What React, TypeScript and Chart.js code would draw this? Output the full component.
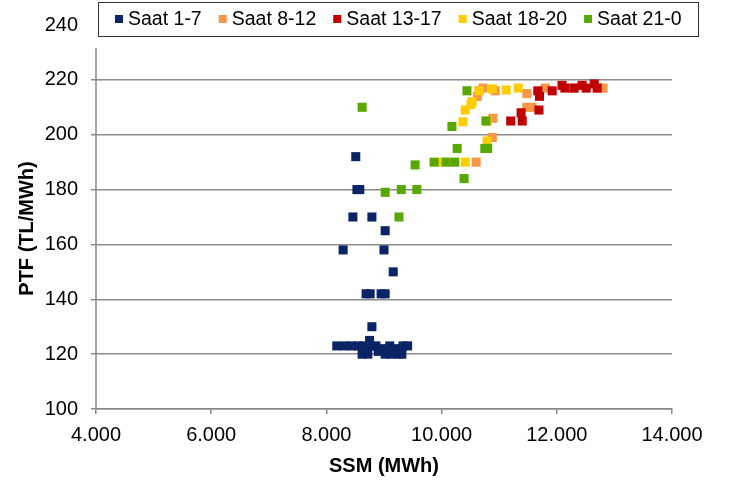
import React, { useEffect, useRef } from 'react';
import { Chart, registerables } from 'chart.js';

Chart.register(...registerables);

const seriesNames = ['Saat 1-7', 'Saat 8-12', 'Saat 13-17', 'Saat 18-20', 'Saat 21-0'];
const seriesColors = ['#0B2466', '#F79646', '#C00000', '#FFCC00', '#58A800'];

const xTickValues = [4000, 6000, 8000, 10000, 12000, 14000];
const yTickValues = [100, 120, 140, 160, 180, 200, 220, 240];

const saat1_7X = [8180, 8320, 8440, 8550, 8650, 8760, 8860, 8980, 9100, 9210, 9330, 9410, 8620, 8720, 8900, 9020, 9120, 9240, 9310, 8750, 8790, 8690, 8760, 8950, 9020, 9160, 8290, 9000, 9020, 8460, 8790, 8530, 8580, 8510];
const saat1_7Y = [123, 123, 123, 123, 123, 123, 123, 122, 123, 122, 123, 123, 120, 120, 121, 120, 120, 120, 120, 125, 130, 142, 142, 142, 142, 150, 158, 158, 165, 170, 170, 180, 180, 192];

const saat8_12X = [10620, 10720, 10930, 11480, 11800, 12280, 12750, 12800, 11480, 11570, 10890, 10880, 10600, 10650];
const saat8_12Y = [214, 217, 216, 215, 217, 217, 217, 217, 210, 210, 206, 199, 190, 216];

const saat13_17X = [11670, 11700, 11920, 12090, 12140, 12300, 12440, 12510, 12650, 12700, 11380, 11690, 11400, 11200];
const saat13_17Y = [216, 214, 216, 218, 217, 217, 218, 217, 218.5, 217, 208, 209, 205, 205];

const saat18_20X = [10650, 10880, 11120, 11330, 10530, 10510, 10410, 10370, 10790, 10790, 10010, 10410];
const saat18_20Y = [216, 216.7, 216.3, 217, 212, 211, 209, 204.7, 205, 197.7, 190, 190];

const saat21_0X = [8620, 10440, 10180, 10770, 10270, 10750, 10800, 9540, 9870, 10080, 10230, 10390, 9020, 9300, 9570, 9260];
const saat21_0Y = [210, 216, 203, 205, 195, 195, 195, 189, 190, 190, 190, 184, 179, 180, 180, 170];

const seriesX = [saat1_7X, saat8_12X, saat13_17X, saat18_20X, saat21_0X];
const seriesY = [saat1_7Y, saat8_12Y, saat13_17Y, saat18_20Y, saat21_0Y];

const xTitle = 'SSM (MWh)';
const yTitle = 'PTF (TL/MWh)';

const FONT = "'Liberation Sans', Arial, sans-serif";

const overlayPlugin = {
  id: 'overlay',
  afterDraw(chart: any) {
    const { ctx, chartArea } = chart;
    ctx.save();
    // y axis line
    ctx.strokeStyle = '#888888';
    ctx.lineWidth = 1.5;
    ctx.beginPath();
    ctx.moveTo(chartArea.left, chartArea.top + 23);
    ctx.lineTo(chartArea.left, chartArea.bottom);
    ctx.stroke();

    // axis titles
    ctx.fillStyle = '#000';
    ctx.font = `bold 20px ${FONT}`;
    ctx.textAlign = 'center';
    ctx.textBaseline = 'middle';
    ctx.fillText(xTitle, (chartArea.left + chartArea.right) / 2, 466);
    ctx.save();
    ctx.translate(27, (chartArea.top + 23 + chartArea.bottom) / 2);
    ctx.rotate(-Math.PI / 2);
    ctx.fillText(yTitle, 0, 0);
    ctx.restore();

    // legend
    const boxX = 98.5, boxY = 2.5, boxW = 600, boxH = 34;
    ctx.fillStyle = '#fff';
    ctx.fillRect(boxX, boxY, boxW, boxH);
    ctx.strokeStyle = '#333';
    ctx.lineWidth = 1;
    ctx.strokeRect(boxX, boxY, boxW, boxH);
    ctx.font = `19.5px ${FONT}`;
    ctx.textAlign = 'left';
    ctx.textBaseline = 'middle';
    let x = 115;
    const cy = 19;
    seriesNames.forEach((name, i) => {
      ctx.fillStyle = seriesColors[i];
      ctx.fillRect(x, cy - 4, 8, 8);
      ctx.fillStyle = '#000';
      const tx = x + 13;
      ctx.fillText(name, tx, cy + 1);
      x = tx + ctx.measureText(name).width + 17;
    });
    ctx.restore();
  },
};

export default function App() {
  const ref = useRef<HTMLCanvasElement>(null);
  useEffect(() => {
    if (!ref.current) return;
    const datasets = seriesNames.map((name, i) => ({
      label: name,
      data: seriesX[i].map((x, j) => ({ x, y: seriesY[i][j] })),
      backgroundColor: seriesColors[i],
      borderColor: seriesColors[i],
      borderWidth: 0,
      pointStyle: 'rect' as const,
      pointRadius: 6.4,
      pointHoverRadius: 6.4,
      order: seriesNames.length - i,
    }));
    const chart = new Chart(ref.current, {
      type: 'scatter',
      data: { datasets },
      options: {
        animation: false,
        responsive: false,
        maintainAspectRatio: false,
        layout: { padding: { top: 25, right: 59, bottom: 0, left: 0 } },
        plugins: { legend: { display: false }, tooltip: { enabled: false } },
        scales: {
          x: {
            type: 'linear',
            min: 4000,
            max: 14000,
            afterFit: (s: any) => { s.height = 72; },
            afterBuildTicks: (s: any) => { s.ticks = xTickValues.map((v) => ({ value: v })); },
            border: { display: true, color: '#888888', width: 1.5 },
            grid: { drawOnChartArea: false, drawTicks: true, tickLength: 5, color: '#888888', lineWidth: 1.5 },
            ticks: {
              padding: 9,
              color: '#000',
              font: { family: FONT, size: 20 },
              callback: (v: any) => (Number(v) / 1000).toFixed(3),
              maxRotation: 0,
            },
          },
          y: {
            type: 'linear',
            min: 100,
            max: 240,
            afterFit: (s: any) => { s.width = 96; },
            afterBuildTicks: (s: any) => { s.ticks = yTickValues.map((v) => ({ value: v })); },
            border: { display: false },
            grid: {
              drawTicks: true,
              tickLength: 5,
              lineWidth: 1.5,
              color: (c: any) => (c.tick && c.tick.value === 240 ? 'rgba(0,0,0,0)' : '#8c8c8c'),
            },
            ticks: {
              padding: 13,
              color: '#000',
              font: { family: FONT, size: 20 },
            },
          },
        },
      },
      plugins: [overlayPlugin],
    });
    return () => chart.destroy();
  }, []);
  return (
    <div style={{ position: 'fixed', left: 0, top: 0, width: 731, height: 481, background: '#fff' }}>
      <canvas ref={ref} width={731} height={481} style={{ width: 731, height: 481, display: 'block' }} />
    </div>
  );
}
